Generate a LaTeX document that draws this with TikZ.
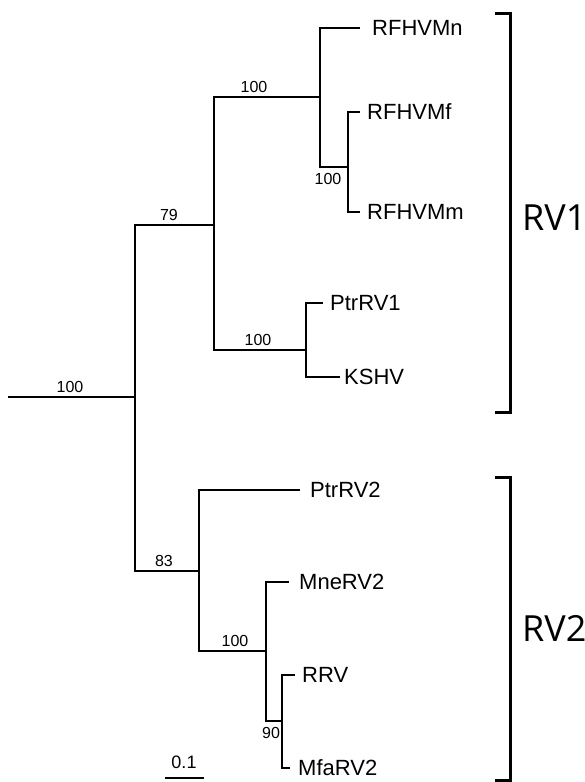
\documentclass[tikz,border=0pt]{standalone}
\usepackage{fontspec}
\setmainfont{Liberation Sans}
\newfontfamily\rvfont{Open Sans}
\begin{document}
\begin{tikzpicture}[x=1pt,y=-1pt,
  branch/.style={line width=2.5pt},
  bracketline/.style={line width=3pt},
  taxon/.style={anchor=west,inner sep=0pt,font=\fontsize{22}{25}\selectfont},
  boot/.style={anchor=south,inner sep=0pt,font=\fontsize{16}{18}\selectfont},
  clade/.style={anchor=west,inner sep=0pt,font=\rvfont\fontsize{36}{40}\selectfont}]
\useasboundingbox (0,0) rectangle (585,782);
% internal nodes
\coordinate (r0) at (8,397);
\coordinate (n1) at (135,397);
\coordinate (n79) at (214,225);
\coordinate (na) at (320,97);
\coordinate (nb) at (348,167);
\coordinate (nc) at (306,350);
\coordinate (n83) at (199,571);
\coordinate (nd) at (266,651);
\coordinate (n90) at (282,721);
% tips
\coordinate (tMn) at (360,28);
\coordinate (tMf) at (360,112);
\coordinate (tMm) at (360,212);
\coordinate (tP1) at (323,303);
\coordinate (tK) at (340,377);
\coordinate (tP2) at (300,490);
\coordinate (tMne) at (289,582);
\coordinate (tR) at (295,675);
\coordinate (tMfa) at (290,768);
% branches
\draw[branch] (r0) -- (n1);
\draw[branch] (n1) |- (n79);
\draw[branch] (n1) |- (n83);
\draw[branch] (n79) |- (na);
\draw[branch] (n79) |- (nc);
\draw[branch] (na) |- (tMn);
\draw[branch] (na) |- (nb);
\draw[branch] (nb) |- (tMf);
\draw[branch] (nb) |- (tMm);
\draw[branch] (nc) |- (tP1);
\draw[branch] (nc) |- (tK);
\draw[branch] (n83) |- (tP2);
\draw[branch] (n83) |- (nd);
\draw[branch] (nd) |- (tMne);
\draw[branch] (nd) |- (n90);
\draw[branch] (n90) |- (tR);
\draw[branch] (n90) |- (tMfa);
% taxa
\node[taxon] (lMn) at (372,28) {RFHVMn};
\node[taxon] (lMf) at (367,112) {RFHVMf};
\node[taxon] (lMm) at (367,212) {RFHVMm};
\node[taxon] (lP1) at (330,303) {PtrRV1};
\node[taxon] (lK) at (344,377) {KSHV};
\node[taxon] (lP2) at (310,490) {PtrRV2};
\node[taxon] (lMne) at (299,582) {MneRV2};
\node[taxon] (lR) at (302,675) {RRV};
\node[taxon] (lMfa) at (298,768) {MfaRV2};
% bootstrap values
\node[boot] (b1) at (70,393) {100};
\node[boot] (b2) at (169,221) {79};
\node[boot] (b3) at (254,93) {100};
\node[boot] (b4) at (258,346) {100};
\node[boot] (b5) at (328,185) {100};
\node[boot] (b6) at (164,567) {83};
\node[boot] (b7) at (235,647) {100};
\node[boot] (b8) at (271,739) {90};
% scale bar
\coordinate (s1) at (165,778);
\coordinate (s2) at (204,778);
\draw[branch] (s1) -- (s2);
\node[boot,font=\fontsize{18}{20}\selectfont] (sl) at (184,769) {0.1};
% clade brackets
\coordinate (k1a) at (495,13);
\coordinate (k1b) at (510,13);
\coordinate (k1c) at (510,412);
\coordinate (k1d) at (495,412);
\draw[bracketline] (k1a) -- (k1b) -- (k1c) -- (k1d);
\coordinate (k2a) at (495,477);
\coordinate (k2b) at (510,477);
\coordinate (k2c) at (510,780);
\coordinate (k2d) at (495,780);
\draw[bracketline] (k2a) -- (k2b) -- (k2c) -- (k2d);
\node[clade] (rv1) at (522,218) {RV1};
\node[clade] (rv2) at (522,628) {RV2};
\end{tikzpicture}
\end{document}
